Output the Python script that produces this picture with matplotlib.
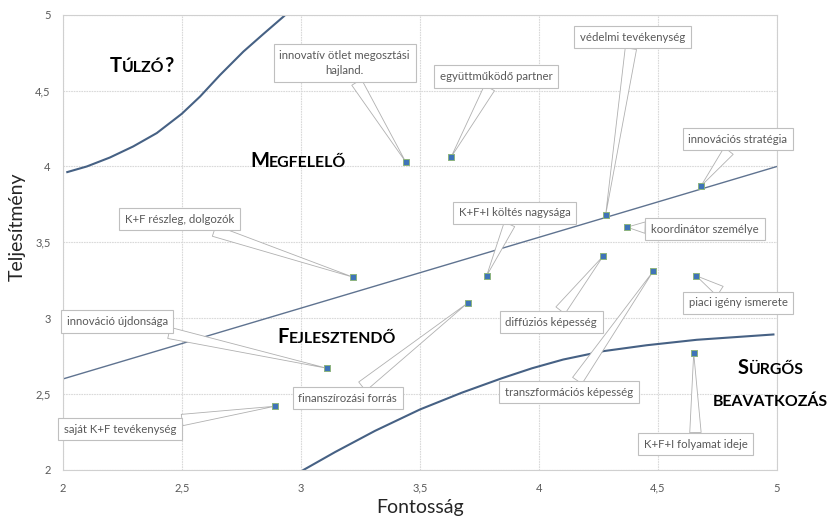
import matplotlib
matplotlib.use('Agg')
import matplotlib.pyplot as plt
from matplotlib.ticker import FuncFormatter

# ---------------- data ----------------
labels = [
    "innovatív ötlet megosztási\nhajland.",
    "együttműködő partner",
    "védelmi tevékenység",
    "innovációs stratégia",
    "K+F+I költés nagysága",
    "koordinátor személye",
    "K+F részleg, dolgozók",
    "innováció újdonsága",
    "saját K+F tevékenység",
    "finanszírozási forrás",
    "diffúziós képesség",
    "transzformációs képesség",
    "piaci igény ismerete",
    "K+F+I folyamat ideje",
]
importance = [3.44, 3.63, 4.28, 4.68, 3.78, 4.37, 3.22, 3.11, 2.89, 3.70, 4.27, 4.48, 4.66, 4.65]
performance = [4.03, 4.06, 3.68, 3.87, 3.28, 3.60, 3.27, 2.67, 2.42, 3.10, 3.41, 3.31, 3.28, 2.77]

trend_x = [2.0, 5.0]
trend_y = [2.6, 4.0]

upper_x = [2.018, 2.100, 2.197, 2.295, 2.394, 2.499, 2.576, 2.660, 2.758, 2.842, 2.929]
upper_y = [3.963, 4.000, 4.059, 4.132, 4.220, 4.347, 4.461, 4.603, 4.757, 4.873, 4.991]

lower_x = [3.010, 3.143, 3.311, 3.500, 3.675, 3.843, 3.970, 4.102, 4.270, 4.452, 4.663, 4.985]
lower_y = [2.000, 2.118, 2.258, 2.399, 2.509, 2.604, 2.670, 2.728, 2.783, 2.822, 2.858, 2.893]

x_ticks = [2, 2.5, 3, 3.5, 4, 4.5, 5]
y_ticks = [2, 2.5, 3, 3.5, 4, 4.5, 5]

x_title = "Fontosság"
y_title = "Teljesítmény"

# ---------------- layout (label offsets in pixels) ----------------
label_offsets = [
    (-61, 99), (45, 81), (27, 178), (37, 47), (28, 63), (78, -2),
    (-174, 58), (-210, 47), (-155, -23), (-120, -95), (-52, -66),
    (-84, -121), (42, -27), (2, -91),
]

plt.rcParams['font.family'] = ['Lato', 'DejaVu Sans']

fig = plt.figure(figsize=(8.36, 5.27), dpi=100)
ax = fig.add_axes([63 / 836, 1 - 470 / 527, (777 - 63) / 836, (470 - 14.7) / 527])

ax.set_xlim(2, 5)
ax.set_ylim(2, 5)
ax.set_xticks(x_ticks)
ax.set_yticks(y_ticks)
fmt = FuncFormatter(lambda v, p: (f"{v:g}").replace('.', ','))
ax.xaxis.set_major_formatter(fmt)
ax.yaxis.set_major_formatter(fmt)
ax.tick_params(length=0, labelsize=8, labelcolor='#595959', pad=9)
ax.grid(True, color='#d9d9d9', lw=0.8, ls=(0, (1.5, 0.8)))
ax.set_axisbelow(True)
for s in ax.spines.values():
    s.set_color('#d0d0d0')
    s.set_linewidth(0.8)

ax.set_xlabel(x_title, fontsize=14, color='#262626')
ax.xaxis.set_label_coords(0.5, -0.063)
ax.set_ylabel(y_title, fontsize=14, color='#262626', va='center')
ax.yaxis.set_label_coords(-0.064, 0.535)

# lines
ax.plot(trend_x, trend_y, color='#5f7390', lw=1.0, zorder=2)
ax.plot(upper_x, upper_y, color='#466184', lw=1.5, zorder=2, solid_joinstyle='round')
ax.plot(lower_x, lower_y, color='#466184', lw=1.5, zorder=2, solid_joinstyle='round')

# points
ax.scatter(importance, performance, marker='s', s=18, facecolor='#3f74b8',
           edgecolor='#8db47e', linewidth=0.7, zorder=5)

# callouts
for lab, x, y, (dx, dy) in zip(labels, importance, performance, label_offsets):
    ax.annotate(lab, xy=(x, y), xytext=(dx, dy), textcoords='offset pixels',
                ha='center', va='center', fontsize=8.2, color='#595959',
                multialignment='center', linespacing=1.5,
                bbox=dict(boxstyle='square,pad=0.5', fc='white', ec='#bfbfbf', lw=0.8),
                arrowprops=dict(arrowstyle='wedge,tail_width=1.0,shrink_factor=0.5',
                                fc='white', ec='#b0b0b0', lw=0.6,
                                shrinkA=0, shrinkB=0),
                zorder=4, annotation_clip=False)

# small-caps region labels
fig.canvas.draw()
renderer = fig.canvas.get_renderer()

BIG = 14.5
SMALL = 11.4


def small_caps(x, y, parts):
    """parts: list of (text, is_big) drawn one after another on a common baseline."""
    cx = x
    for txt, big in parts:
        t = ax.text(cx, y, txt, fontsize=BIG if big else SMALL, fontweight='bold',
                    color='black', ha='left', va='baseline', zorder=6, clip_on=False)
        bb = t.get_window_extent(renderer)
        _, y0 = ax.transData.transform((cx, y))
        cx, _ = ax.transData.inverted().transform((bb.x1, y0))


small_caps(2.197, 4.623, [("T", True), ("ÚLZÓ", False), ("?", True)])
small_caps(2.786, 3.998, [("M", True), ("EGFELELŐ", False)])
small_caps(2.899, 2.84, [("F", True), ("EJLESZTENDŐ", False)])
small_caps(4.836, 2.63, [("S", True), ("ÜRGŐS", False)])
small_caps(4.731, 2.419, [("BEAVATKOZÁS", False)])

fig.savefig('out.png', dpi=100)
